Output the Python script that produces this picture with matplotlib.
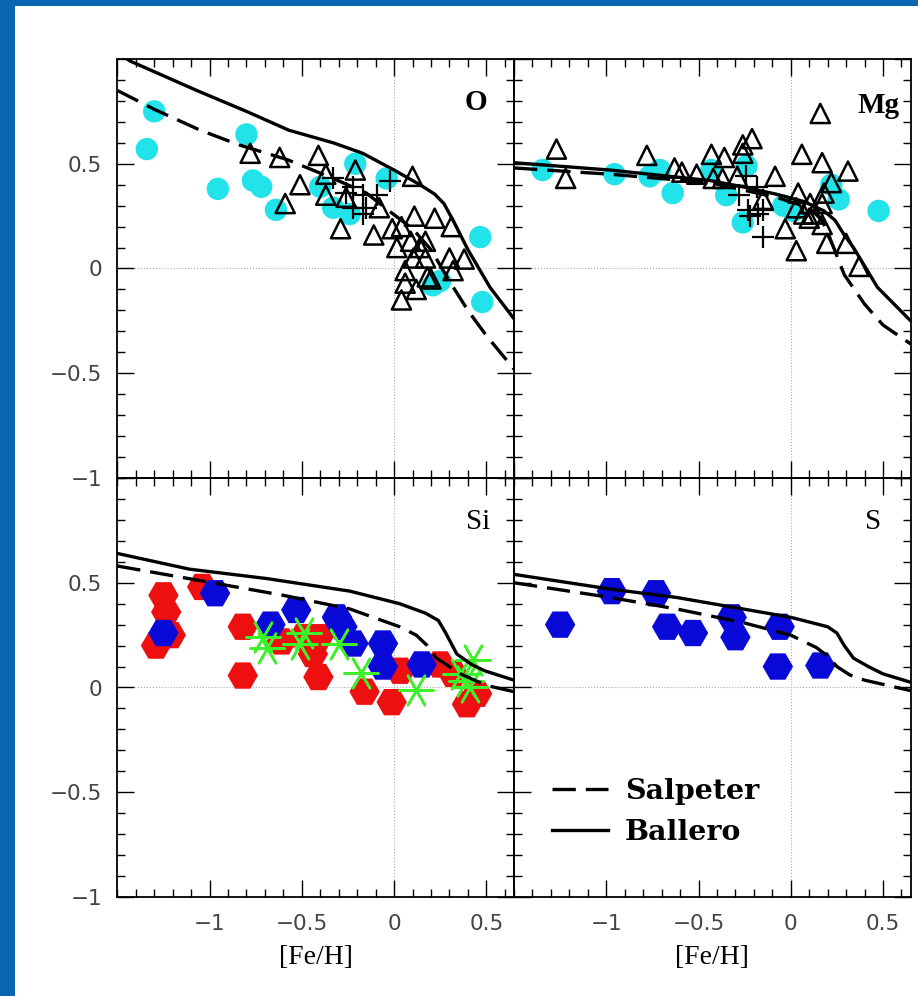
import matplotlib
matplotlib.use("Agg")
import matplotlib.pyplot as plt
from matplotlib.patches import Rectangle
from matplotlib.ticker import MultipleLocator

# model curves ([Fe/H] vs [X/Fe]), Salpeter (dashed) and Ballero (solid) IMF
o_salp_x = [-1.5, -1.3, -1.05, -0.84, -0.58, -0.33, -0.15, -0.02, 0.1, 0.2, 0.3, 0.4, 0.5, 0.65]
o_salp_y = [0.85, 0.76, 0.66, 0.59, 0.52, 0.43, 0.36, 0.27, 0.19, 0.09, -0.06, -0.2, -0.32, -0.48]
o_ball_x = [-1.5, -1.43, -1.07, -0.8, -0.57, -0.33, -0.17, 0.0, 0.14, 0.22, 0.27, 0.32, 0.40, 0.52, 0.65]
o_ball_y = [1.03, 0.99, 0.85, 0.75, 0.66, 0.60, 0.55, 0.47, 0.40, 0.355, 0.31, 0.23, 0.09, -0.09, -0.24]

mg_salp_x = [-1.5, -0.98, -0.44, -0.08, 0.1, 0.17, 0.21, 0.25, 0.29, 0.4, 0.5, 0.65]
mg_salp_y = [0.48, 0.45, 0.41, 0.34, 0.29, 0.23, 0.15, 0.06, -0.03, -0.17, -0.27, -0.36]
mg_ball_x = [-1.5, -0.98, -0.44, -0.26, -0.08, 0.07, 0.18, 0.24, 0.29, 0.34, 0.47, 0.65]
mg_ball_y = [0.505, 0.47, 0.42, 0.39, 0.355, 0.32, 0.275, 0.23, 0.16, 0.10, -0.09, -0.25]

si_salp_x = [-1.5, -1.05, -0.6, -0.24, 0.03, 0.12, 0.18, 0.23, 0.36, 0.5, 0.65]
si_salp_y = [0.58, 0.51, 0.44, 0.375, 0.29, 0.25, 0.2, 0.14, 0.065, 0.01, -0.02]
si_ball_x = [-1.5, -1.11, -0.69, -0.24, 0.03, 0.17, 0.24, 0.28, 0.34, 0.42, 0.49, 0.65]
si_ball_y = [0.64, 0.565, 0.52, 0.46, 0.40, 0.355, 0.32, 0.26, 0.16, 0.11, 0.08, 0.035]

s_salp_x = [-1.5, -0.98, -0.62, -0.26, 0.0, 0.14, 0.2, 0.25, 0.32, 0.4, 0.65]
s_salp_y = [0.50, 0.43, 0.375, 0.31, 0.25, 0.19, 0.15, 0.10, 0.06, 0.035, -0.015]
s_ball_x = [-1.5, -0.98, -0.62, -0.26, 0.0, 0.2, 0.25, 0.29, 0.34, 0.42, 0.5, 0.65]
s_ball_y = [0.54, 0.47, 0.43, 0.375, 0.335, 0.29, 0.26, 0.2, 0.14, 0.10, 0.065, 0.025]

# observations
o_circ_x = [-1.34, -1.30, -0.955, -0.80, -0.765, -0.72, -0.64, -0.40, -0.33, -0.24, -0.21, -0.04, 0.467, 0.25, 0.21, 0.478]
o_circ_y = [0.57, 0.75, 0.38, 0.64, 0.42, 0.39, 0.28, 0.39, 0.29, 0.26, 0.50, 0.43, 0.15, -0.06, -0.08, -0.16]
o_tri_x = [-0.78, -0.62, -0.41, -0.37, -0.21, -0.51, -0.59, -0.37, -0.26, -0.29, -0.11, -0.08,
           0.10, -0.01, 0.04, 0.11, 0.22, 0.31, 0.015, 0.09, 0.14, 0.17, 0.105, 0.17, 0.38, 0.32,
           0.06, 0.20, 0.04, 0.12, 0.18, 0.06, 0.30]
o_tri_y = [0.55, 0.53, 0.54, 0.45, 0.47, 0.40, 0.31, 0.35, 0.34, 0.19, 0.16, 0.29,
           0.44, 0.19, 0.20, 0.25, 0.24, 0.20, 0.10, 0.13, 0.10, 0.13, 0.05, 0.05, 0.045, -0.01,
           -0.07, -0.05, -0.15, -0.10, -0.04, -0.01, 0.05]
o_plus_x = [-0.33, -0.22, -0.26, -0.17, -0.09, -0.22, -0.17, -0.15, -0.02]
o_plus_y = [0.43, 0.39, 0.36, 0.35, 0.35, 0.29, 0.26, 0.29, 0.42]

mg_circ_x = [-1.345, -0.955, -0.765, -0.71, -0.64, -0.43, -0.35, -0.26, -0.24, -0.04, 0.014, 0.26, 0.476, 0.22]
mg_circ_y = [0.47, 0.45, 0.44, 0.47, 0.36, 0.47, 0.35, 0.22, 0.49, 0.30, 0.275, 0.33, 0.275, 0.40]
mg_tri_x = [-1.27, -1.22, -0.78, -0.63, -0.59, -0.51, -0.43, -0.36, -0.26, -0.21, -0.26, -0.42,
            -0.37, -0.29, -0.085, -0.15, 0.06, 0.16, 0.17, 0.31, 0.22, 0.18, 0.04, 0.03, 0.105,
            0.17, 0.07, -0.03, 0.03, 0.17, 0.195, 0.30, 0.37, 0.10, 0.12]
mg_tri_y = [0.57, 0.43, 0.54, 0.48, 0.46, 0.45, 0.545, 0.53, 0.59, 0.62, 0.55, 0.43,
            0.43, 0.44, 0.44, 0.33, 0.545, 0.74, 0.505, 0.465, 0.41, 0.36, 0.36, 0.29, 0.31,
            0.31, 0.26, 0.19, 0.085, 0.21, 0.12, 0.12, 0.01, 0.24, 0.26]
mg_plus_x = [-0.24, -0.185, -0.28, -0.23, -0.15, -0.18, -0.15, -0.22]
mg_plus_y = [0.44, 0.39, 0.35, 0.28, 0.28, 0.26, 0.15, 0.25]

si_red_x = [-1.25, -1.235, -1.21, -1.29, -1.04, -0.82, -0.82, -0.61, -0.41, -0.41, -0.44,
            -0.16, -0.013, 0.033, 0.25, 0.395, 0.45, 0.32, -0.49]
si_red_y = [0.44, 0.36, 0.25, 0.20, 0.48, 0.29, 0.057, 0.22, 0.24, 0.05, 0.16,
            -0.02, -0.07, 0.08, 0.11, -0.08, -0.03, 0.065, 0.24]
si_blue_x = [-1.25, -0.97, -0.67, -0.53, -0.31, -0.22, -0.06, -0.06, 0.15, -0.28]
si_blue_y = [0.26, 0.45, 0.30, 0.37, 0.335, 0.21, 0.21, 0.10, 0.11, 0.29]
si_star_x = [-0.71, -0.69, -0.51, -0.49, -0.30, -0.18, 0.12, 0.36, 0.43, 0.41, 0.39]
si_star_y = [0.24, 0.19, 0.21, 0.26, 0.21, 0.07, -0.01, 0.065, 0.13, 0.0, 0.03]

s_blue_x = [-1.25, -0.97, -0.73, -0.67, -0.53, -0.32, -0.30, -0.06, -0.07, 0.16]
s_blue_y = [0.30, 0.46, 0.45, 0.29, 0.26, 0.335, 0.24, 0.29, 0.10, 0.105]

cyan = "#22e2ea"
red = "#ee1010"
blue = "#0a0ad8"
green = "#3ef02a"
tick_gray = "#444444"

fig = plt.figure(figsize=(9.18, 9.96), dpi=100, facecolor="#0a66b0")
fig.patches.append(Rectangle((15 / 918, 0), 1, 1 - 6 / 996, transform=fig.transFigure,
                             facecolor="white", edgecolor="none", zorder=-10))

x0, w = 117.3 / 918, 396.7 / 918
y_bot, h = 1 - 897 / 996, 419 / 996
ax_o = fig.add_axes([x0, y_bot + h, w, h])
ax_mg = fig.add_axes([x0 + w, y_bot + h, w, h])
ax_si = fig.add_axes([x0, y_bot, w, h])
ax_s = fig.add_axes([x0 + w, y_bot, w, h])

line_kw = dict(color="black", lw=2.4, zorder=4)
dash_kw = dict(color="black", lw=2.4, dashes=(7, 3), zorder=4)

for ax in [ax_o, ax_mg, ax_si, ax_s]:
    ax.set_xlim(-1.5, 0.65)
    ax.set_ylim(-1, 1)
    ax.set_facecolor("none")
    ax.axhline(0, color="#aaaaaa", lw=0.8, ls=":", zorder=1)
    ax.axvline(0, color="#aaaaaa", lw=0.8, ls=":", zorder=1)
    ax.xaxis.set_major_locator(MultipleLocator(0.5))
    ax.xaxis.set_minor_locator(MultipleLocator(0.1))
    ax.yaxis.set_major_locator(MultipleLocator(0.5))
    ax.yaxis.set_minor_locator(MultipleLocator(0.1))
    ax.tick_params(which="both", direction="in", top=True, right=True, width=1.0,
                   colors="black", labelcolor=tick_gray, labelsize=15.5)
    ax.tick_params(which="major", length=12)
    ax.tick_params(which="minor", length=5.5)
    ax.tick_params(axis="x", pad=12)
    ax.tick_params(axis="y", pad=11)
    for sp in ax.spines.values():
        sp.set_linewidth(1.3)

def tick_fmt(v, pos):
    if abs(v) < 1e-9:
        return "0"
    return f"{v:g}".replace("-", "\u2212")

for ax in [ax_o, ax_si]:
    ax.set_yticks([-1, -0.5, 0, 0.5])
    ax.yaxis.set_major_formatter(tick_fmt)
for ax in [ax_mg, ax_s]:
    ax.set_yticks([-1, -0.5, 0, 0.5, 1])
    ax.tick_params(labelleft=False)
for ax in [ax_o, ax_mg]:
    ax.tick_params(labelbottom=False)
for ax in [ax_si, ax_s]:
    ax.set_xticks([-1, -0.5, 0, 0.5])
    ax.xaxis.set_major_formatter(tick_fmt)
    ax.set_xlabel("[Fe/H]", family="Liberation Serif", fontsize=20, labelpad=8)

tri_kw = dict(s=190, marker="^", facecolors="none", edgecolors="black", linewidths=1.8, zorder=5)
plus_kw = dict(s=260, marker="+", color="black", linewidths=1.6, zorder=5)
label_kw = dict(ha="center", va="center", family="Liberation Serif", fontsize=21)

# O
ax_o.scatter(o_circ_x, o_circ_y, s=260, color=cyan, edgecolors="none", zorder=2)
ax_o.plot(o_salp_x, o_salp_y, **dash_kw)
ax_o.plot(o_ball_x, o_ball_y, **line_kw)
ax_o.scatter(o_tri_x, o_tri_y, **tri_kw)
ax_o.scatter(o_plus_x, o_plus_y, **plus_kw)
ax_o.text(0.904, 0.895, "O", transform=ax_o.transAxes, weight="bold", **label_kw)

# Mg
ax_mg.scatter(mg_circ_x, mg_circ_y, s=260, color=cyan, edgecolors="none", zorder=2)
ax_mg.plot(mg_salp_x, mg_salp_y, **dash_kw)
ax_mg.plot(mg_ball_x, mg_ball_y, **line_kw)
ax_mg.scatter(mg_tri_x, mg_tri_y, **tri_kw)
ax_mg.scatter(mg_plus_x, mg_plus_y, **plus_kw)
ax_mg.text(0.92, 0.89, "Mg", transform=ax_mg.transAxes, weight="bold", **label_kw)

# Si
ax_si.scatter(si_red_x, si_red_y, s=480, marker="H", color=red, edgecolors="none", zorder=2)
ax_si.scatter(si_blue_x, si_blue_y, s=480, marker="H", color=blue, edgecolors="none", zorder=2.5)
ax_si.scatter(si_star_x, si_star_y, s=600, marker=(6, 2, 30), color=green, linewidths=1.8, zorder=3)
ax_si.plot(si_salp_x, si_salp_y, **dash_kw)
ax_si.plot(si_ball_x, si_ball_y, **line_kw)
ax_si.text(0.91, 0.895, "Si", transform=ax_si.transAxes, **label_kw)

# S
ax_s.scatter(s_blue_x, s_blue_y, s=480, marker="H", color=blue, edgecolors="none", zorder=2)
salp, = ax_s.plot(s_salp_x, s_salp_y, **dash_kw)
ball, = ax_s.plot(s_ball_x, s_ball_y, **line_kw)
ax_s.text(0.906, 0.895, "S", transform=ax_s.transAxes, **label_kw)
ax_s.legend([salp, ball], ["Salpeter", "Ballero"], loc="upper left", bbox_to_anchor=(0.096, 0.285),
            frameon=False, borderpad=0, borderaxespad=0, handlelength=1.95, handletextpad=0.6,
            labelspacing=0.5, prop=dict(family="DejaVu Serif", weight="bold", size=20.5))

fig.savefig("out.png", dpi=100, facecolor=fig.get_facecolor())
